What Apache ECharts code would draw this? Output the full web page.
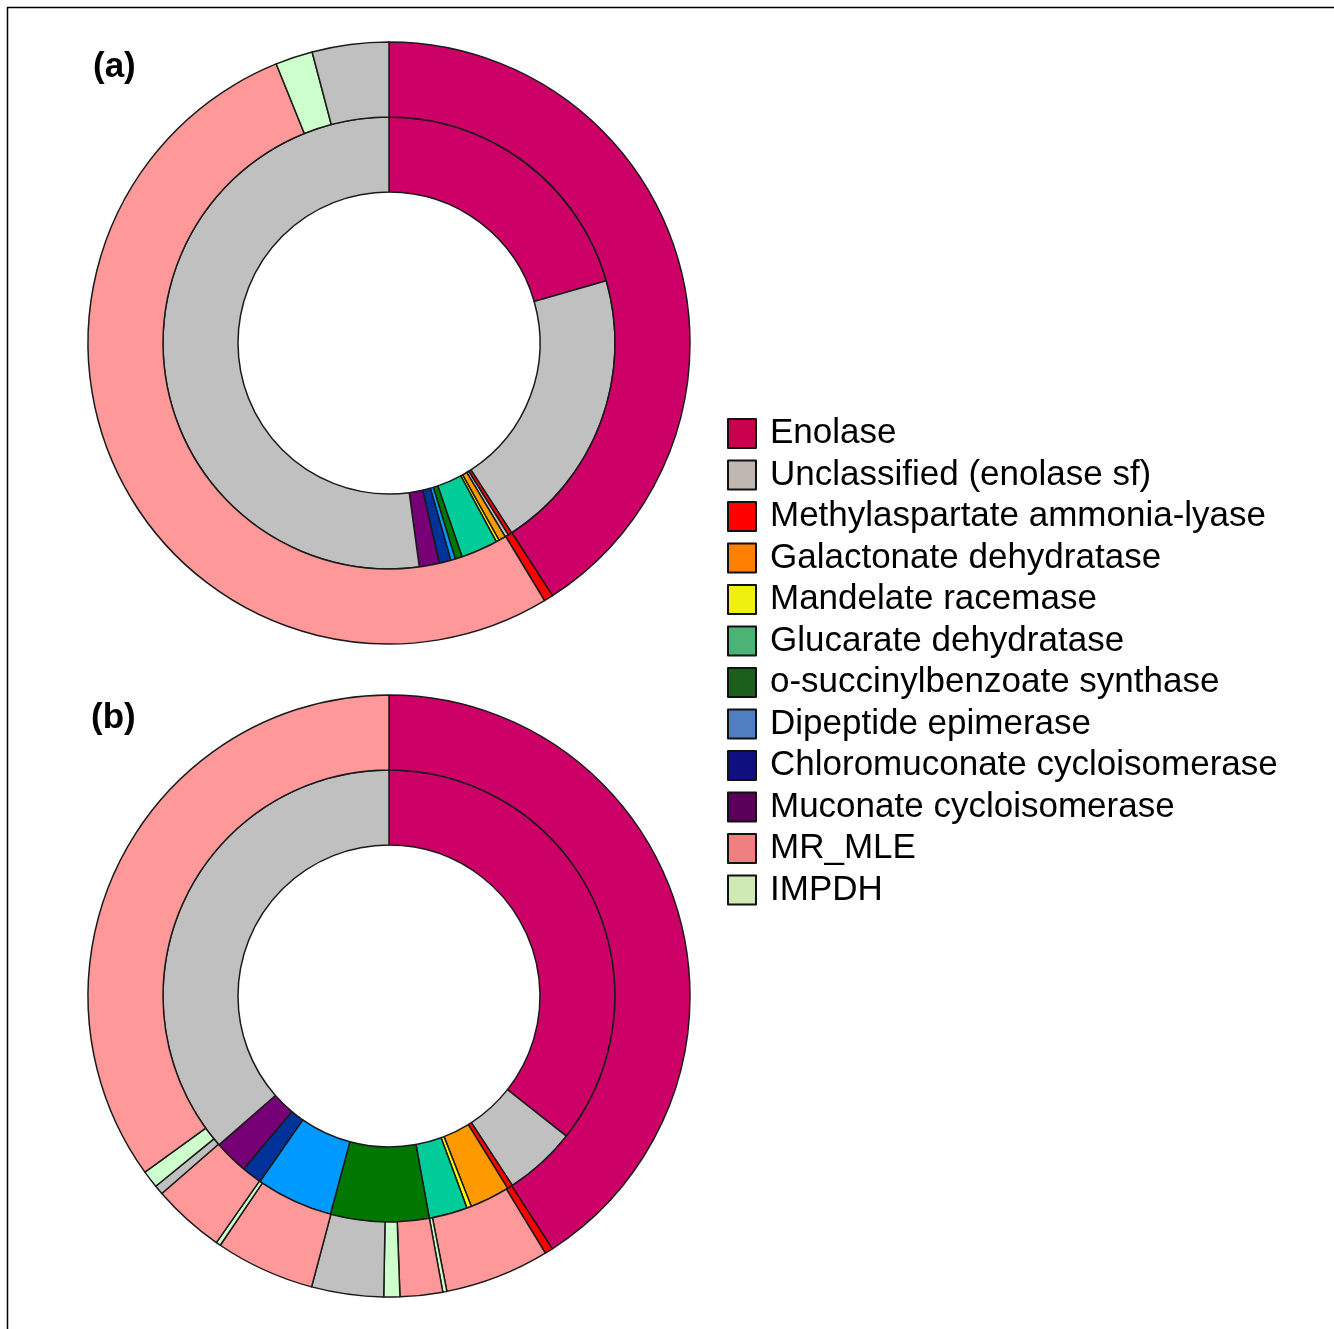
<!DOCTYPE html>
<html>
<head>
<meta charset="utf-8">
<script src="https://cdn.jsdelivr.net/npm/echarts@6/dist/echarts.min.js"></script>
<style>
  html, body { margin: 0; padding: 0; background: #fff; }
  #chart { width: 1334px; height: 1329px; }
</style>
</head>
<body>
<div id="chart"></div>
<script>
// ---- Data (percent of each ring, clockwise from 12 o'clock) ----
const categories = [
  'Enolase',
  'Unclassified (enolase sf)',
  'Methylaspartate ammonia-lyase',
  'Galactonate dehydratase',
  'Mandelate racemase',
  'Glucarate dehydratase',
  'o-succinylbenzoate synthase',
  'Dipeptide epimerase',
  'Chloromuconate cycloisomerase',
  'Muconate cycloisomerase',
  'MR_MLE',
  'IMPDH'
];

// Panel (a)
const aInnerNames = ['Enolase','Unclassified (enolase sf)','Methylaspartate ammonia-lyase','Unclassified (enolase sf)','Galactonate dehydratase','Mandelate racemase','Glucarate dehydratase','o-succinylbenzoate synthase','Dipeptide epimerase','Chloromuconate cycloisomerase','Muconate cycloisomerase','Unclassified (enolase sf)'];
const aInnerValues = [20.56, 20.31, 0.28, 0.25, 0.50, 0.22, 2.64, 0.50, 0.33, 0.83, 1.44, 52.14];
const aOuterNames = ['Enolase','Methylaspartate ammonia-lyase','MR_MLE','IMPDH','Unclassified (enolase sf)'];
const aOuterValues = [40.86, 0.50, 52.53, 2.00, 4.11];

// Panel (b)
const bInnerNames = ['Enolase','Unclassified (enolase sf)','Methylaspartate ammonia-lyase','Galactonate dehydratase','Mandelate racemase','Glucarate dehydratase','o-succinylbenzoate synthase','Dipeptide epimerase','Chloromuconate cycloisomerase','Muconate cycloisomerase','Unclassified (enolase sf)'];
const bInnerValues = [35.64, 5.17, 0.39, 2.86, 0.33, 2.75, 7.03, 5.50, 1.44, 2.44, 36.44];
const bOuterNames = ['Enolase','Methylaspartate ammonia-lyase','MR_MLE','IMPDH','MR_MLE','IMPDH','Unclassified (enolase sf)','MR_MLE','IMPDH','MR_MLE','Unclassified (enolase sf)','IMPDH','MR_MLE'];
const bOuterValues = [40.86, 0.44, 5.61, 0.22, 2.28, 0.86, 3.86, 5.33, 0.25, 3.89, 0.50, 0.94, 34.94];

const panelLabels = ['(a)', '(b)'];

// ---- Styles ----
const sliceColors = {
  'Enolase': '#CC0066',
  'Unclassified (enolase sf)': '#C0C0C0',
  'Methylaspartate ammonia-lyase': '#FF0000',
  'Galactonate dehydratase': '#FF9900',
  'Mandelate racemase': '#FFFF00',
  'Glucarate dehydratase': '#00CC99',
  'o-succinylbenzoate synthase': '#007700',
  'Dipeptide epimerase': '#0099FF',
  'Chloromuconate cycloisomerase': '#003399',
  'Muconate cycloisomerase': '#770077',
  'MR_MLE': '#FF9999',
  'IMPDH': '#CCFFCC'
};
const legendColors = {
  'Enolase': '#C8004E',
  'Unclassified (enolase sf)': '#C0B8B0',
  'Methylaspartate ammonia-lyase': '#FF0000',
  'Galactonate dehydratase': '#FF8000',
  'Mandelate racemase': '#F0F010',
  'Glucarate dehydratase': '#4CB377',
  'o-succinylbenzoate synthase': '#1C5E1C',
  'Dipeptide epimerase': '#4F7FBF',
  'Chloromuconate cycloisomerase': '#0F0F7F',
  'Muconate cycloisomerase': '#5A005A',
  'MR_MLE': '#F08080',
  'IMPDH': '#D0EAB5'
};

const FONT = '"Liberation Sans", Arial, Helvetica, sans-serif';

function toData(names, values) {
  return names.map((n, i) => ({ name: n, value: values[i], itemStyle: { color: sliceColors[n] } }));
}

function ring(names, values, center, radius) {
  return {
    type: 'pie',
    center: center,
    radius: radius,
    startAngle: 90,
    clockwise: true,
    avoidLabelOverlap: false,
    silent: true,
    label: { show: false },
    labelLine: { show: false },
    emphasis: { disabled: true },
    animation: false,
    itemStyle: { borderColor: '#1a1a1a', borderWidth: 1.5 },
    data: toData(names, values)
  };
}

const chart = echarts.init(document.getElementById('chart'), null, { renderer: 'canvas' });

const centerA = [389, 343];
const centerB = [389, 996];
const rIn = 151, rMid = 226, rOut = 301;

chart.setOption({
  backgroundColor: '#ffffff',
  animation: false,
  title: [
    { text: panelLabels[0], left: 93, top: 50, padding: 0,
      textStyle: { fontFamily: FONT, fontSize: 35, fontWeight: 'bold', color: '#000' } },
    { text: panelLabels[1], left: 91, top: 701, padding: 0,
      textStyle: { fontFamily: FONT, fontSize: 35, fontWeight: 'bold', color: '#000' } }
  ],
  legend: {
    orient: 'vertical',
    left: 727,
    top: 416,
    padding: 0,
    icon: 'rect',
    itemWidth: 28,
    itemHeight: 29,
    itemGap: 6.5,
    selectedMode: false,
    textStyle: { fontFamily: FONT, fontSize: 35, color: '#000', padding: [0, 0, 0, 9] },
    data: categories.map(n => ({
      name: n,
      itemStyle: { color: legendColors[n], borderColor: '#111', borderWidth: 2 }
    }))
  },
  graphic: [
    { type: 'line', silent: true, shape: { x1: 7, y1: 7.5, x2: 1334, y2: 7.5 }, style: { stroke: '#000', lineWidth: 1.5 } },
    { type: 'line', silent: true, shape: { x1: 7.5, y1: 7, x2: 7.5, y2: 1329 }, style: { stroke: '#000', lineWidth: 1.5 } }
  ],
  series: [
    ring(aInnerNames, aInnerValues, centerA, [rIn, rMid]),
    ring(aOuterNames, aOuterValues, centerA, [rMid, rOut]),
    ring(bInnerNames, bInnerValues, centerB, [rIn, rMid]),
    ring(bOuterNames, bOuterValues, centerB, [rMid, rOut])
  ]
});
</script>
</body>
</html>
